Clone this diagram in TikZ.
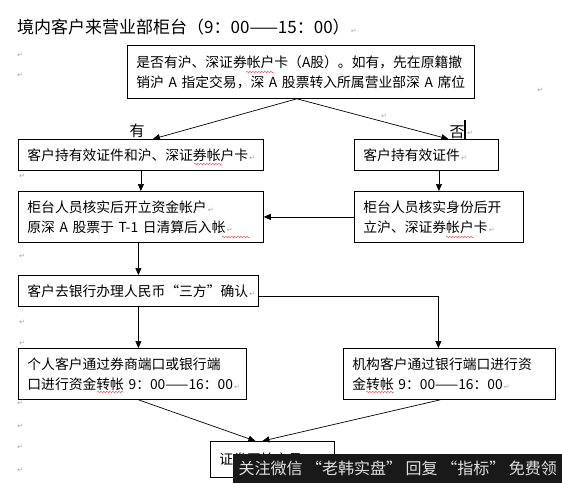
\documentclass[tikz,border=0pt]{standalone}
\usepackage{fontspec}
\setmainfont{Noto Sans CJK SC}
\newfontfamily\dejavu{DejaVu Sans}
\usetikzlibrary{arrows.meta,calc,decorations.pathmorphing}
\newcommand{\pmk}{{\color{gray!70}\dejavu\fontsize{7}{7}\selectfont\,↵}}
\begin{document}
\begin{tikzpicture}[x=1pt,y=-1pt,
  box/.style={draw, line width=0.8pt, anchor=north west, inner xsep=9pt, inner ysep=0pt,
    align=left, font=\fontsize{13.8}{20}\selectfont},
  arr/.style={-{Triangle[length=7pt,width=6pt]}, line width=0.7pt},
  pm/.style={text=gray!70, font=\dejavu\fontsize{7}{7}\selectfont, inner sep=0pt},
  lbl/.style={inner sep=0pt, font=\fontsize{15}{15}\selectfont},
  wavy/.style={draw=red!80, line width=0.4pt, decorate,
    decoration={snake, segment length=3pt, amplitude=0.7pt}}
]
\useasboundingbox[fill=white] (0,0) rectangle (562,483);

% title
\node[anchor=west, inner sep=0pt, font=\fontsize{17}{17}\selectfont] (title) at (17,27)
  {境内客户来营业部柜台（9：00——15：00）\pmk};

% boxes
\node[box, text width=329pt, minimum height=53pt] (b1) at (127,45)
  {是否有沪、深证券帐户卡（A股）。如有，先在原籍撤\\销沪~A~指定交易，深~A~股票转入所属营业部深~A~席位};
\node[box, text width=227pt, minimum height=31pt] (b2l) at (18,139)
  {客户持有效证件和沪、深证券帐户卡\pmk};
\node[box, text width=126pt, minimum height=31pt] (b2r) at (354,139)
  {客户持有效证件\pmk};
\node[box, text width=227pt, minimum height=51pt] (b3l) at (18,191)
  {柜台人员核实后开立资金帐户\pmk\\\mbox{原深~A~股票于~T-1~日清算后入帐\pmk}};
\node[box, text width=151pt, minimum height=51pt] (b3r) at (354,191)
  {柜台人员核实身份后开\\立沪、深证券帐户卡\pmk};
\node[box, text width=222pt, minimum height=31pt] (b4) at (18,275)
  {客户去银行办理人民币“三方”确认\pmk};
\node[box, text width=210pt, minimum height=51pt] (b5l) at (18,348)
  {个人客户通过券商端口或银行端\\\mbox{口进行资金转帐~9：00——16：00\pmk}};
\node[box, text width=194pt, minimum height=51pt] (b5r) at (343,348)
  {机构客户通过银行端口进行资\\\mbox{金转帐~9：00——16：00\pmk}};
\node[box, text width=106pt, minimum height=36pt] (b6) at (210,441)
  {证券开始交易};

% spell-check underlines
\draw[wavy] (246,72) -- (274,72);
\draw[wavy] (194,164) -- (222,164);
\draw[wavy] (222,237) -- (250,237);
\draw[wavy] (446,237) -- (474,237);
\draw[wavy] (97,392) -- (124,392);
\draw[wavy] (366,392) -- (394,392);

% labels
\node[lbl] (yes) at (137,131) {有};
\node[lbl] (no) at (457,132) {否};
\draw[line width=1.4pt] (465,120) -- (465,139);
\node[pm, anchor=west] (pmno) at (467,133) {↵};

% connectors
\draw[arr] ([xshift=-4pt]b1.south) -- ([xshift=12pt]b2l.north);
\draw[arr] ([xshift=-4pt]b1.south) -- ([xshift=22pt]b2r.north);
\draw[arr] (b2l.south) -- (b3l.north);
\draw[arr] (b3r.north |- b2r.south) -- (b3r.north);
\draw[arr] (b3r.west) -- (b3l.east);
\draw[arr] (b4.north |- b3l.south) -- (b4.north);
\draw[arr] (b4.south) -- (b4.south |- b5l.north);
\draw[arr] ([yshift=-5pt]b4.east) -| ([xshift=-11pt]b5r.north);
\draw[arr] ([xshift=6pt]b5l.south) -- ([xshift=-17pt]b6.north);
\draw[arr] ([xshift=-9pt]b5r.south) -- ([xshift=-10pt]b6.north);

% paragraph marks
\foreach \px/\py [count=\i] in {20/55,20/75,540/90,384/116,22/176,22/256,22/322,22/343,20/403,20/426,20/447,20/470}
  \node[pm] (pm\i) at (\px,\py) {↵};

% watermark
\node[fill=black!90, text=gray!25, anchor=north west, minimum width=329pt, minimum height=29pt,
  inner sep=0pt, font=\fontsize{16}{16}\selectfont] (wm) at (233,454)
  {关注微信 “老韩实盘” 回复 “指标” 免费领};
\end{tikzpicture}
\end{document}
